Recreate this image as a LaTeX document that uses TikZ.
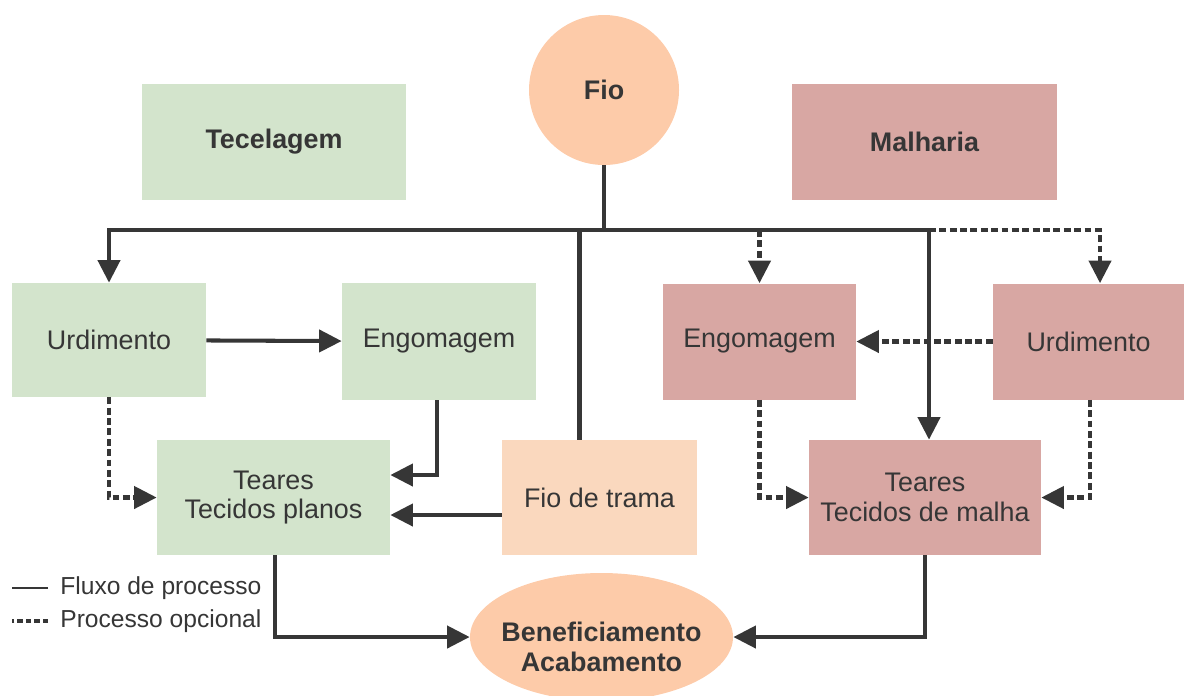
\documentclass[tikz,border=0pt]{standalone}
\usepackage{fontspec}
\setmainfont{Liberation Sans}
\usetikzlibrary{positioning, arrows.meta, shapes.geometric}
\definecolor{verde}{HTML}{D3E4CC}
\definecolor{rosa}{HTML}{D8A7A3}
\definecolor{pessego}{HTML}{FDCBA9}
\definecolor{trama}{HTML}{FAD8BE}
\definecolor{tinta}{HTML}{363636}
\tikzset{
  txt/.style={
      font=\fontsize{15.3}{17}\selectfont,
      text=tinta,
      align=center
    },
  title/.style={
      txt,
      font=\fontsize{15.3}{17}\selectfont\bfseries
    },
  tec/.style={
      rectangle,
      fill=verde,
      minimum height=2.3cm,
      minimum width=3.88cm
    },
  mal/.style={
      rectangle,
      fill=rosa,
      minimum height=2.32cm,
      minimum width=3.86cm
    },
  flow/.style={
      draw=tinta,
      line width=2.3pt
    },
  arr/.style={
      flow,
      -{Triangle[length=0.45cm,width=0.44cm]}
    },
  opt/.style={
      arr,
      dash pattern=on 3.9pt off 2pt
    }
}
\begin{document}
\begin{tikzpicture}
  \useasboundingbox (0,0) rectangle (23.68,-13.9);
  % topo
  \node[circle, fill=pessego, minimum size=3cm, title] (fio) at (12.08,-1.8) {Fio};
  \node[tec, title, minimum width=5.28cm, minimum height=2.32cm] (tecel) at (5.48,-2.84) {Tecelagem};
  \node[mal, title, minimum width=5.3cm] (malh) at (18.49,-2.84) {Malharia};
  % processos
  \node[tec, txt, minimum height=2.28cm] (urdL) at (2.18,-6.8) {Urdimento};
  \node[tec, txt, minimum height=2.34cm] (engL) at (8.78,-6.83) {Engomagem};
  \node[mal, txt] (engR) at (15.19,-6.83) {Engomagem};
  \node[mal, txt, minimum width=3.82cm] (urdR) at (21.77,-6.83) {Urdimento};
  \node[tec, txt, minimum width=4.66cm] (tearL) at (5.47,-9.95) {Teares\\Tecidos planos};
  \node[rectangle, fill=trama, txt, minimum width=3.9cm, minimum height=2.3cm] (fioT) at (11.99,-9.95) {Fio de trama};
  \node[mal, txt, minimum width=4.64cm, minimum height=2.3cm] (tearR) at (18.5,-9.95) {Teares\\Tecidos de malha};
  \node[ellipse, fill=pessego, inner sep=0pt, minimum width=5.26cm, minimum height=2.56cm] (benef) at (12.03,-12.74) {};
  \node[title] (benefTxt) at ([yshift=-0.2cm]benef.center) {Beneficiamento\\Acabamento};
  % ligacoes
  \coordinate (split) at (12.08,-4.6);
  \coordinate (knot) at (18.58,-4.6);
  \draw[flow] (fio) -- (split);
  \draw[arr] (split) -| (urdL);
  \draw[arr] (split) -- (knot) -- (knot |- tearR.north);
  \draw[flow] ([xshift=-0.4cm]fioT.north) -- ([xshift=-0.4cm]fioT.north |- split);
  \draw[opt] (engR.north |- split) -- (engR);
  \draw[opt] (knot) -| ([xshift=0.23cm]urdR.north);
  \draw[arr] (urdL) -- (engL);
  \draw[opt] (urdL.south) |- (tearL.west);
  \draw[arr] ([xshift=-0.04cm]engL.south) |- ([yshift=0.45cm]tearL.east);
  \draw[arr] ([yshift=-0.35cm]fioT.west) -- ([yshift=-0.35cm]tearL.east);
  \draw[opt] (urdR) -- (engR);
  \draw[opt] (engR.south) |- (tearR.west);
  \draw[opt] ([xshift=0.03cm]urdR.south) |- (tearR.east);
  \draw[arr] ([xshift=0.03cm]tearL.south) |- (benef.west);
  \draw[arr] (tearR.south) |- (benef.east);
  % legenda
  \node[txt, font=\fontsize{14}{16}\selectfont, anchor=west, inner sep=0pt] (lgFlux) at (1.2,-11.76) {Fluxo de processo};
  \node[txt, font=\fontsize{14}{16}\selectfont, anchor=west, inner sep=0pt] (lgOpc) at (1.2,-12.42) {Processo opcional};
  \draw[tinta, line width=1pt] ([xshift=-0.24cm]lgFlux.west) -- ++(-0.72,0);
  \draw[tinta, line width=2pt, dash pattern=on 3pt off 1.8pt] ([xshift=-0.24cm]lgOpc.west) -- ++(-0.72,0);
\end{tikzpicture}
\end{document}
